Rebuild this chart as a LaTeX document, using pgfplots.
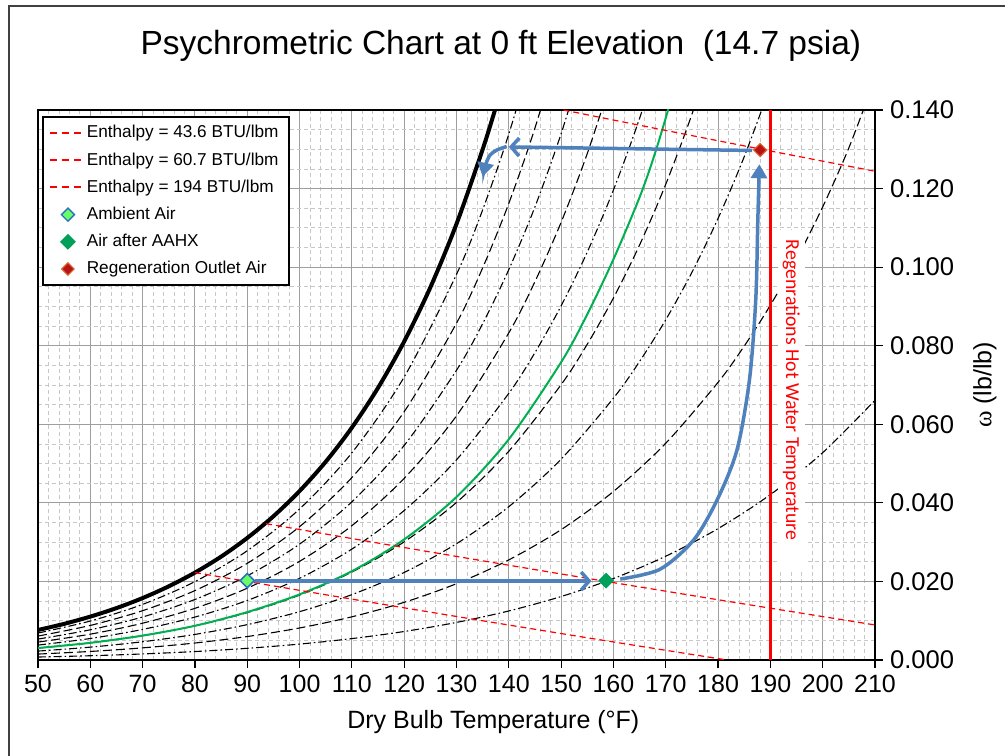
\documentclass[border=0pt]{standalone}
\usepackage{pgfplots}
\pgfplotsset{compat=1.18}
\usetikzlibrary{arrows.meta}
\usepackage{fontspec}
\setmainfont{Liberation Sans}
\newfontfamily\calibri{Carlito}
\newfontfamily\timesfont{Liberation Serif}
\definecolor{arrowblue}{HTML}{4F81BD}
\definecolor{rhgreen}{HTML}{00B050}
\definecolor{aahx}{HTML}{00A05A}
\definecolor{ambfill}{HTML}{66FF66}
\definecolor{ambedge}{HTML}{2F6FC0}
\definecolor{regfill}{HTML}{B81414}
\definecolor{regedge}{HTML}{D8602A}

\tikzset{
  rhdd/.style={black, line width=0.55pt, dash pattern=on 4pt off 1.5pt on 0.8pt off 1.5pt},
  rhda/.style={black, line width=0.55pt, dash pattern=on 4.5pt off 2pt},
  enthleg/.style={red, line width=0.9pt, dash pattern=on 3.5pt off 2.5pt},
}

\begin{document}
\begin{tikzpicture}[x=1pt,y=1pt]
\useasboundingbox (0,0) rectangle (502.5,377.5);
\draw[black!75, line width=1pt] (4.5,-5) -- (4.5,374.5) -- (510,374.5);
\begin{axis}[
  at={(19pt,47.5pt)}, anchor=south west,
  scale only axis, width=418.5pt, height=275pt,
  xmin=50, xmax=210, ymin=0, ymax=0.14,
  xtick={50,60,70,80,90,100,110,120,130,140,150,160,170,180,190,200,210},
  ytick={0,0.02,0.04,0.06,0.08,0.1,0.12,0.14},
  minor x tick num=4, minor y tick num=3,
  grid=both,
  major grid style={draw=black!38, line width=0.5pt},
  minor grid style={draw=black!22, dash pattern=on 2pt off 1.5pt, line width=0.4pt},
  axis line style={line width=1.4pt},
  xtick pos=bottom, ytick pos=right, yticklabel pos=right,
  tick align=outside, major tick length=4pt, minor tick length=0pt,
  tick style={black, line width=0.6pt},
  /pgf/number format/assume math mode=true,
  xticklabel style={font=\fontsize{12.5}{14}\selectfont},
  yticklabel style={font=\fontsize{12.8}{14}\selectfont,
    /pgf/number format/.cd, fixed, fixed zerofill, precision=3},
  xlabel={Dry Bulb Temperature (°F)},
  xlabel style={at={(rel axis cs:0.544,-0.1127)}, anchor=center, font=\fontsize{12.5}{14}\selectfont},
  ylabel={{\timesfont ω} (lb/lb)},
  ylabel style={at={(rel axis cs:1.1314,0.5)}, anchor=center, font=\fontsize{12.5}{14}\selectfont},
  title={Psychrometric Chart at 0 ft Elevation\ \ (14.7 psia)},
  title style={at={(rel axis cs:0.553,1.094)}, anchor=center, font=\fontsize{16.75}{20}\selectfont},
  legend style={at={(0.0048,0.989)}, anchor=north west, draw=black, fill=white, line width=1pt,
    font=\fontsize{8.6}{10}\selectfont, row sep=1.85pt, inner xsep=3pt, inner ysep=2.2pt},
  legend cell align=left,
]

% relative humidity lines 10% ... 90%
\addplot[forget plot, smooth, rhdd] coordinates {(50,0.000755)(60,0.001087)(70,0.001542)(80,0.002155)(90,0.002973)(100,0.004049)(110,0.005449)(120,0.007257)(130,0.009564)(140,0.012487)(150,0.016157)(160,0.020736)(170,0.026418)(180,0.033441)(190,0.042103)(200,0.052770)(210,0.066129)};
\addplot[forget plot, smooth, rhda] coordinates {(50,0.001512)(60,0.002178)(70,0.003091)(80,0.004325)(90,0.005974)(100,0.008151)(110,0.010995)(120,0.014685)(130,0.019427)(140,0.025486)(150,0.033177)(160,0.042902)(170,0.055178)(180,0.070684)(185,0.079915)(190,0.090325)(195,0.102052)(200,0.115329)(205,0.130359)(210,0.147999)};
\addplot[forget plot, smooth, rhdd] coordinates {(50,0.002270)(60,0.003273)(70,0.004648)(80,0.006511)(90,0.009004)(100,0.012307)(110,0.016639)(120,0.022290)(130,0.029603)(140,0.039029)(150,0.051128)(160,0.066650)(165,0.076002)(170,0.086609)(175,0.098670)(180,0.112410)(185,0.128105)(190,0.146084)};
\addplot[forget plot, smooth, rhda] coordinates {(50,0.003030)(60,0.004371)(70,0.006213)(80,0.008711)(90,0.012064)(100,0.016518)(110,0.022386)(120,0.030080)(130,0.040106)(140,0.053150)(150,0.070091)(155,0.080390)(160,0.092157)(165,0.105644)(170,0.121101)(175,0.138908)(180,0.159486)};
\addplot[forget plot, smooth, rhdd] coordinates {(50,0.003793)(60,0.005473)(70,0.007785)(80,0.010928)(90,0.015154)(100,0.020785)(110,0.028235)(120,0.038060)(130,0.050955)(140,0.067887)(145,0.078253)(150,0.090153)(155,0.103845)(160,0.119636)(165,0.137906)(170,0.159125)};
\addplot[forget plot, smooth, rhda] coordinates {(50,0.004557)(60,0.006580)(70,0.009366)(80,0.013159)(90,0.018273)(100,0.025110)(110,0.034193)(120,0.046239)(130,0.062163)(140,0.083281)(145,0.096329)(150,0.111421)(155,0.128916)(160,0.149305)};
\addplot[forget plot, smooth, rhdd] coordinates {(50,0.005323)(60,0.007690)(70,0.010954)(80,0.015407)(90,0.021424)(100,0.029494)(110,0.040260)(120,0.054620)(130,0.073755)(135,0.085618)(140,0.099382)(145,0.115360)(150,0.133986)(155,0.155785)};
\addplot[forget plot, smooth, rhda] coordinates {(50,0.006091)(60,0.008804)(70,0.012551)(80,0.017670)(90,0.024605)(100,0.033937)(110,0.046442)(120,0.063218)(130,0.085740)(135,0.099812)(140,0.116234)(145,0.135434)(150,0.157993)};
\addplot[forget plot, smooth, rhdd] coordinates {(50,0.006860)(60,0.009922)(70,0.014155)(80,0.019950)(90,0.027818)(100,0.038441)(110,0.052740)(120,0.072033)(130,0.098152)(135,0.114590)(140,0.133888)(145,0.156620)};

% saturation line
\addplot[forget plot, smooth, black, line width=2pt] coordinates {(50,0.007632)(55,0.009201)(60,0.011044)(65,0.013212)(70,0.015768)(75,0.018755)(80,0.022245)(85,0.026308)(90,0.031064)(95,0.036579)(100,0.043007)(105,0.050463)(110,0.059156)(115,0.069279)(120,0.081083)(125,0.094844)(130,0.111003)(135,0.129980)(137.5,0.140660)};

% green line
\addplot[forget plot, smooth, rhgreen, line width=1pt] coordinates {(50,0.00305)(60,0.00437)(70,0.00621)(80,0.00871)(90,0.0122)(100,0.0167)(110,0.0226)(120,0.0307)(130,0.0415)(140,0.0562)(150,0.0758)(155,0.0880)(160,0.1020)(165,0.1178)(168,0.1292)(171,0.1425)};

% hot water temperature
\addplot[forget plot, red, line width=1.5pt] coordinates {(190,0)(190,0.14)};
\fill[white] (axis cs:191.5,0.0224) rectangle (axis cs:196.7,0.1094);
\node[rotate=-90, text=red, font=\calibri\fontsize{9.9}{11}\selectfont] at (axis cs:194.0,0.0687) {Regenrations Hot Water Temperature};

% enthalpy lines
\addplot[red, line width=0.6pt, dash pattern=on 3pt off 2pt, smooth,
  legend image code/.code={\draw[enthleg] (0pt,0.25pt) -- (16pt,0.25pt);}]
  coordinates {(80,0.02225)(105,0.01661)(130,0.01108)(155,0.00566)(181.7,0)};
\addlegendentry{Enthalpy = 43.6 BTU/lbm}
\addplot[red, line width=0.6pt, dash pattern=on 3pt off 2pt, smooth,
  legend image code/.code={\draw[enthleg] (0pt,0.25pt) -- (16pt,0.25pt);}]
  coordinates {(93.6,0.0347)(120,0.02863)(150,0.02190)(180,0.01534)(210,0.00892)};
\addlegendentry{Enthalpy = 60.7 BTU/lbm}
\addplot[red, line width=0.6pt, dash pattern=on 3pt off 2pt, smooth,
  legend image code/.code={\draw[enthleg] (0pt,0.25pt) -- (16pt,0.25pt);}]
  coordinates {(150.45,0.14)(165,0.13612)(180,0.13217)(195,0.12827)(210,0.12441)};
\addlegendentry{Enthalpy = 194 BTU/lbm}

% process arrows
\addplot[forget plot, arrowblue, line width=1.75pt, -{Straight Barb[length=4pt,width=9pt]}] coordinates {(91.5,0.0201)(155.8,0.0201)};
\addplot[forget plot, arrowblue, line width=1.75pt, smooth, -{Triangle[length=7pt,width=8pt]}] coordinates {(161.3,0.0206)(168.9,0.0231)(175.3,0.0305)(179.8,0.0407)(183.6,0.0534)(186.0,0.0713)(187.2,0.0916)(187.6,0.1120)(187.9,0.1262)};
\addplot[forget plot, arrowblue, line width=1.75pt, -{Straight Barb[length=4pt,width=9pt]}] coordinates {(186.5,0.1297)(140.0,0.1306)};
\addplot[forget plot, arrowblue, line width=1.75pt, smooth, -{Triangle[length=7pt,width=8pt]}] coordinates {(139.6,0.1307)(137.7,0.1298)(136.4,0.1285)(135.6,0.1262)(135.0,0.1230)};

% state points
\addplot[only marks, mark=square*, mark size=2.5pt,
  mark options={rotate=45, fill=ambfill, draw=ambedge, line width=0.8pt},
  legend image code/.code={\draw[mark=square*, mark size=2.3pt, mark options={rotate=45, fill=ambfill, draw=ambedge, line width=0.7pt}] plot coordinates {(9pt,0pt)};}]
  coordinates {(90.0,0.0202)};
\addlegendentry{Ambient Air}
\addplot[only marks, mark=square*, mark size=2.6pt,
  mark options={rotate=45, fill=aahx, draw=aahx},
  legend image code/.code={\draw[mark=square*, mark size=2.3pt, mark options={rotate=45, fill=aahx, draw=aahx}] plot coordinates {(9pt,0pt)};}]
  coordinates {(158.6,0.0202)};
\addlegendentry{Air after AAHX}
\addplot[only marks, mark=square*, mark size=2.3pt,
  mark options={rotate=45, fill=regfill, draw=regedge, line width=0.6pt},
  legend image code/.code={\draw[mark=square*, mark size=2.2pt, mark options={rotate=45, fill=regfill, draw=regedge, line width=0.6pt}] plot coordinates {(9pt,0pt)};}]
  coordinates {(188.05,0.1298)};
\addlegendentry{Regeneration Outlet Air}
\end{axis}
\end{tikzpicture}
\end{document}
